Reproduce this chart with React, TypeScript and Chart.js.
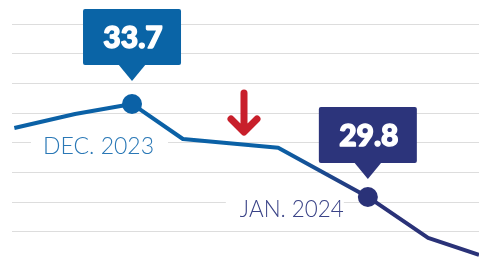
import React, { useEffect, useRef } from "react";
import { Chart, registerables } from "chart.js";

Chart.register(...registerables);

// ---- data ----
const timeline = [0.5, 13.5, 25.7, 36.6, 57.0, 76.2, 89.1, 100];
const values = [32.69, 33.28, 33.7, 32.23, 31.86, 29.8, 28.08, 27.37];
const gridValues = [28.34, 29.58, 30.83, 32.07, 33.32, 34.56, 35.81, 37.05];
const highlightIdx = [2, 5];
const highlightPeriods = ["DEC. 2023", "JAN. 2024"];

// ---- styles ----
const BLUE = "#0b61a6";
const NAVY = "#2a3278";
const RED = "#c81f2b";
const GRID = "#dddddd";
const calloutStyles = [
  { color: "#0a64a6", gap: 23, labelColor: "#2a78b6", labelDx: -89, labelDy: 50, labelW: 111, padL: 12, padR: 14 },
  { color: "#2c347b", gap: 18, labelColor: "#3a4387", labelDx: -128, labelDy: 20, labelW: 104, padL: 14, padR: 0 },
];

const annotations = {
  id: "annotations",
  beforeDatasetsDraw(chart: any) {
    const { ctx, scales } = chart;
    highlightIdx.forEach((idx, i) => {
      const st = calloutStyles[i];
      const px = scales.x.getPixelForValue(timeline[idx]);
      const py = scales.y.getPixelForValue(values[idx]);
      ctx.save();
      ctx.font = "300 24px Lato";
      const text = highlightPeriods[i];
      const w = ctx.measureText(text).width;
      const sx = st.labelW / w;
      const left = px + st.labelDx;
      const base = py + st.labelDy;
      ctx.fillStyle = "#ffffff";
      ctx.fillRect(left - st.padL, base - 24, st.labelW + st.padL + st.padR, 30);
      ctx.fillStyle = st.labelColor;
      ctx.textBaseline = "alphabetic";
      ctx.textAlign = "left";
      ctx.translate(left, base);
      ctx.scale(sx, 1);
      ctx.fillText(text, 0, 0);
      ctx.restore();
    });
  },
  afterDatasetsDraw(chart: any) {
    const { ctx, scales } = chart;
    highlightIdx.forEach((idx, i) => {
      const st = calloutStyles[i];
      const px = scales.x.getPixelForValue(timeline[idx]);
      const py = scales.y.getPixelForValue(values[idx]);
      const tip = py - st.gap;
      const boxW = 98;
      const boxH = 56;
      const triH = 16;
      const triW = 14;
      const bottom = tip - triH;
      const top = bottom - boxH;
      const left = px - boxW / 2;
      ctx.save();
      ctx.fillStyle = st.color;
      ctx.beginPath();
      (ctx as any).roundRect(left, top, boxW, boxH, 2);
      ctx.fill();
      ctx.beginPath();
      ctx.moveTo(px - triW, bottom - 1);
      ctx.lineTo(px, tip);
      ctx.lineTo(px + triW, bottom - 1);
      ctx.closePath();
      ctx.fill();
      ctx.fillStyle = "#ffffff";
      ctx.strokeStyle = "#ffffff";
      ctx.lineWidth = 1.4;
      ctx.lineJoin = "round";
      ctx.font = "900 30px Lato";
      ctx.textAlign = "center";
      ctx.textBaseline = "middle";
      const t = values[idx].toFixed(1);
      ctx.fillText(t, px + 1, top + boxH / 2 + 1);
      ctx.strokeText(t, px + 1, top + boxH / 2 + 1);
      ctx.restore();
    });

    // red down arrow
    ctx.save();
    ctx.strokeStyle = RED;
    ctx.lineWidth = 7;
    ctx.lineCap = "round";
    ctx.lineJoin = "round";
    ctx.beginPath();
    ctx.moveTo(244, 93);
    ctx.lineTo(244, 131);
    ctx.moveTo(231, 119);
    ctx.lineTo(244, 132);
    ctx.lineTo(257, 119);
    ctx.stroke();
    ctx.restore();
  },
};

export default function App() {
  const ref = useRef<HTMLCanvasElement>(null);
  useEffect(() => {
    if (!ref.current) return;
    const chart = new Chart(ref.current, {
      type: "line",
      data: {
        datasets: [
          {
            data: timeline.map((x, i) => ({ x, y: values[i] })),
            borderWidth: 4,
            borderJoinStyle: "round",
            tension: 0,
            borderColor: (c: any) => {
              const ch = c.chart;
              if (!ch.chartArea || !ch.scales.x) return BLUE;
              const x0 = ch.scales.x.getPixelForValue(timeline[4]);
              const x1 = ch.scales.x.getPixelForValue(timeline[5]);
              const g = ch.ctx.createLinearGradient(x0, 0, x1, 0);
              g.addColorStop(0, BLUE);
              g.addColorStop(1, NAVY);
              return g;
            },
            pointRadius: values.map((_, i) => (highlightIdx.includes(i) ? 10 : 0)),
            pointBorderWidth: 0,
            pointBackgroundColor: values.map((_, i) => (i === highlightIdx[0] ? BLUE : NAVY)),
            pointHoverRadius: 0,
            clip: false,
          } as any,
        ],
      },
      options: {
        animation: false,
        responsive: false,
        layout: { padding: { left: 12, right: 0, top: 0, bottom: 0 } },
        plugins: { legend: { display: false }, tooltip: { enabled: false } },
        events: [],
        scales: {
          x: { type: "linear", min: 0, max: 100, display: false },
          y: {
            type: "linear",
            min: 27.24,
            max: 38.06,
            afterBuildTicks: (scale: any) => {
              scale.ticks = gridValues.map((v) => ({ value: v }));
            },
            ticks: { display: false },
            border: { display: false },
            grid: { color: GRID, lineWidth: 1, drawTicks: false },
          },
        },
      },
      plugins: [annotations],
    });
    return () => chart.destroy();
  }, []);
  return (
    <div style={{ position: "fixed", left: 0, top: 0, width: 479, height: 258, background: "#fff" }}>
      <canvas ref={ref} width={479} height={258} />
    </div>
  );
}
